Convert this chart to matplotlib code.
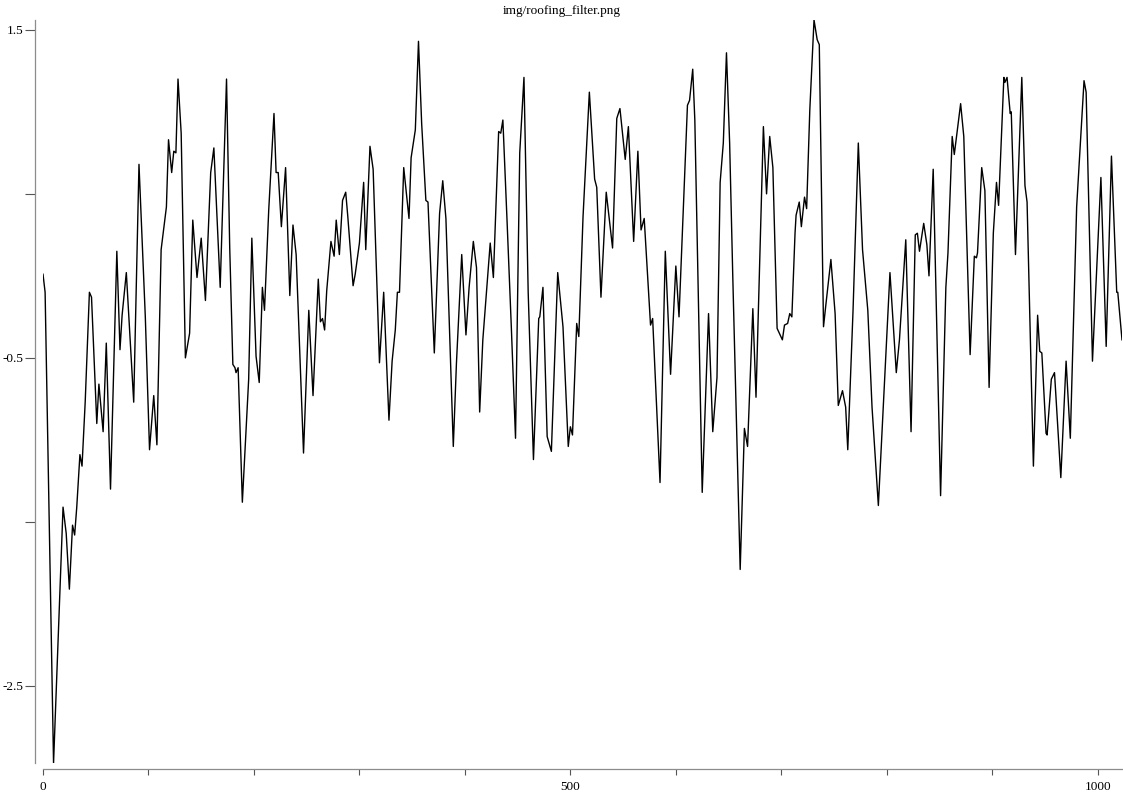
"""Roofing filter output trace, redrawn from img/roofing_filter.png."""

import matplotlib
matplotlib.use("Agg")
import matplotlib.pyplot as plt

# vertices of the filtered trace (sample index, value)
xs = [0, 2, 10, 19, 22, 25, 28, 30, 32, 35,
      37, 40, 44, 46, 51, 53, 57, 60, 64, 70,
      73, 75, 79, 86, 91, 97, 101, 105, 108, 112,
      117, 119, 122, 124, 126, 128, 131, 135, 139, 142,
      146, 150, 154, 159, 162, 168, 174, 177, 180, 182,
      183, 185, 189, 195, 198, 202, 205, 208, 210, 214,
      219, 221, 223, 226, 230, 234, 237, 240, 247, 252,
      256, 261, 263, 265, 267, 269, 273, 276, 278, 281,
      284, 287, 289, 294, 296, 300, 304, 306, 310, 313,
      319, 323, 328, 331, 334, 336, 338, 342, 347, 349,
      353, 356, 359, 363, 365, 371, 376, 379, 382, 386,
      389, 392, 397, 401, 404, 408, 411, 414, 417, 424,
      427, 432, 434, 436, 440, 444, 448, 452, 456, 460,
      465, 470, 471, 474, 478, 482, 488, 493, 498, 500,
      502, 506, 508, 512, 518, 523, 525, 529, 534, 540,
      544, 547, 552, 555, 560, 564, 567, 570, 576, 578,
      585, 590, 595, 600, 603, 611, 613, 616, 618, 621,
      625, 631, 635, 639, 642, 645, 648, 651, 654, 661,
      665, 668, 673, 676, 683, 686, 689, 692, 696, 701,
      703, 706, 708, 710, 713, 714, 717, 719, 722, 724,
      727, 731, 734, 736, 740, 742, 747, 751, 754, 758,
      761, 763, 768, 773, 777, 782, 786, 792, 796, 803,
      809, 812, 818, 823, 827, 829, 831, 835, 838, 840,
      844, 851, 856, 858, 862, 864, 870, 873, 879, 883,
      885, 886, 890, 893, 897, 901, 904, 906, 911, 912,
      914, 917, 918, 922, 928, 931, 933, 939, 943, 945,
      947, 951, 952, 956, 959, 965, 970, 974, 980, 987,
      989, 995, 1003, 1008, 1013, 1018, 1019, 1023]
ys = [0.01, -0.10, -2.97, -1.41, -1.57, -1.91, -1.52, -1.58, -1.41, -1.09,
      -1.16, -0.77, -0.10, -0.13, -0.90, -0.66, -0.95, -0.41, -1.30, 0.15,
      -0.45, -0.24, 0.02, -0.77, 0.68, -0.25, -1.06, -0.73, -1.03, 0.16,
      0.42, 0.83, 0.63, 0.76, 0.75, 1.20, 0.87, -0.50, -0.35, 0.34,
      -0.01, 0.23, -0.15, 0.63, 0.78, -0.07, 1.20, 0.18, -0.54, -0.56,
      -0.59, -0.56, -1.38, -0.63, 0.23, -0.49, -0.65, -0.07, -0.21, 0.40,
      0.99, 0.63, 0.63, 0.30, 0.66, -0.12, 0.31, 0.13, -1.08, -0.21,
      -0.73, -0.02, -0.28, -0.26, -0.33, -0.09, 0.21, 0.12, 0.34, 0.13,
      0.46, 0.51, 0.36, -0.06, 0.01, 0.20, 0.57, 0.16, 0.79, 0.65,
      -0.53, -0.10, -0.88, -0.52, -0.33, -0.10, -0.10, 0.66, 0.35, 0.72,
      0.89, 1.43, 0.93, 0.46, 0.45, -0.47, 0.38, 0.58, 0.35, -0.45,
      -1.04, -0.53, 0.13, -0.36, -0.07, 0.21, 0.05, -0.83, -0.39, 0.20,
      -0.01, 0.88, 0.87, 0.95, 0.33, -0.31, -0.99, 0.75, 1.21, -0.10,
      -1.12, -0.26, -0.25, -0.07, -0.98, -1.07, 0.02, -0.31, -1.04, -0.92,
      -0.97, -0.29, -0.37, 0.36, 1.12, 0.59, 0.54, -0.13, 0.51, 0.17,
      0.96, 1.02, 0.71, 0.91, 0.21, 0.76, 0.28, 0.35, -0.30, -0.26,
      -1.26, 0.15, -0.60, 0.06, -0.25, 1.04, 1.07, 1.26, 0.95, -0.01,
      -1.32, -0.23, -0.95, -0.62, 0.57, 0.81, 1.36, 0.81, -0.01, -1.79,
      -0.93, -1.04, -0.20, -0.74, 0.91, 0.50, 0.85, 0.66, -0.32, -0.39,
      -0.30, -0.29, -0.23, -0.25, 0.26, 0.37, 0.45, 0.30, 0.48, 0.41,
      1.01, 1.56, 1.44, 1.41, -0.31, -0.19, 0.10, -0.23, -0.79, -0.70,
      -0.80, -1.06, -0.21, 0.81, 0.16, -0.21, -0.80, -1.40, -0.88, 0.02,
      -0.59, -0.39, 0.22, -0.95, 0.25, 0.26, 0.15, 0.32, 0.19, 0.00,
      0.65, -1.34, -0.07, 0.14, 0.85, 0.74, 1.05, 0.85, -0.48, 0.12,
      0.11, 0.14, 0.66, 0.52, -0.68, 0.26, 0.57, 0.43, 1.21, 1.18,
      1.21, 0.99, 1.00, 0.13, 1.21, 0.55, 0.45, -1.16, -0.24, -0.46,
      -0.47, -0.96, -0.97, -0.63, -0.59, -1.23, -0.52, -0.99, 0.42, 1.19,
      1.12, -0.52, 0.60, -0.43, 0.73, -0.10, -0.10, -0.39]

y_ticks = [1.5, 0.5, -0.5, -1.5, -2.5]
y_labels = ["1.5", "", "-0.5", "", "-2.5"]
x_ticks = list(range(0, 1001, 100))
x_labels = ["0", "", "", "", "", "500", "", "", "", "", "1000"]

plt.rcParams["font.family"] = ["Liberation Serif", "DejaVu Serif"]
plt.rcParams["font.size"] = 9.5

W, H = 1123, 794
fig = plt.figure(figsize=(W / 100, H / 100), dpi=100)
ax = fig.add_axes([43 / W, 31 / H, (1122 - 43) / W, (763 - 20) / H])

ax.plot(xs, ys, color="black", lw=1.0, solid_joinstyle="round")
ax.set_xlim(0, 1023)
ax.set_ylim(min(ys), max(ys))

for side in ("top", "right"):
    ax.spines[side].set_visible(False)
ax.spines["left"].set_position(("outward", 5.8))
ax.spines["bottom"].set_position(("outward", 4.3))
ax.spines["bottom"].set_bounds(0, 1023)
for side in ("left", "bottom"):
    ax.spines[side].set_color("#8c8c8c")
    ax.spines[side].set_linewidth(0.9)

ax.set_yticks(y_ticks)
ax.set_yticklabels(y_labels)
ax.set_xticks(x_ticks)
ax.set_xticklabels(x_labels)
ax.tick_params(axis="y", length=7, width=0.8, color="#555555", pad=1)
ax.tick_params(axis="x", length=4.5, width=0.8, color="#555555", pad=4)

fig.text(0.5, 1 - 11 / H, "img/roofing_filter.png", ha="center", va="center")

fig.savefig("out.png", dpi=100)
